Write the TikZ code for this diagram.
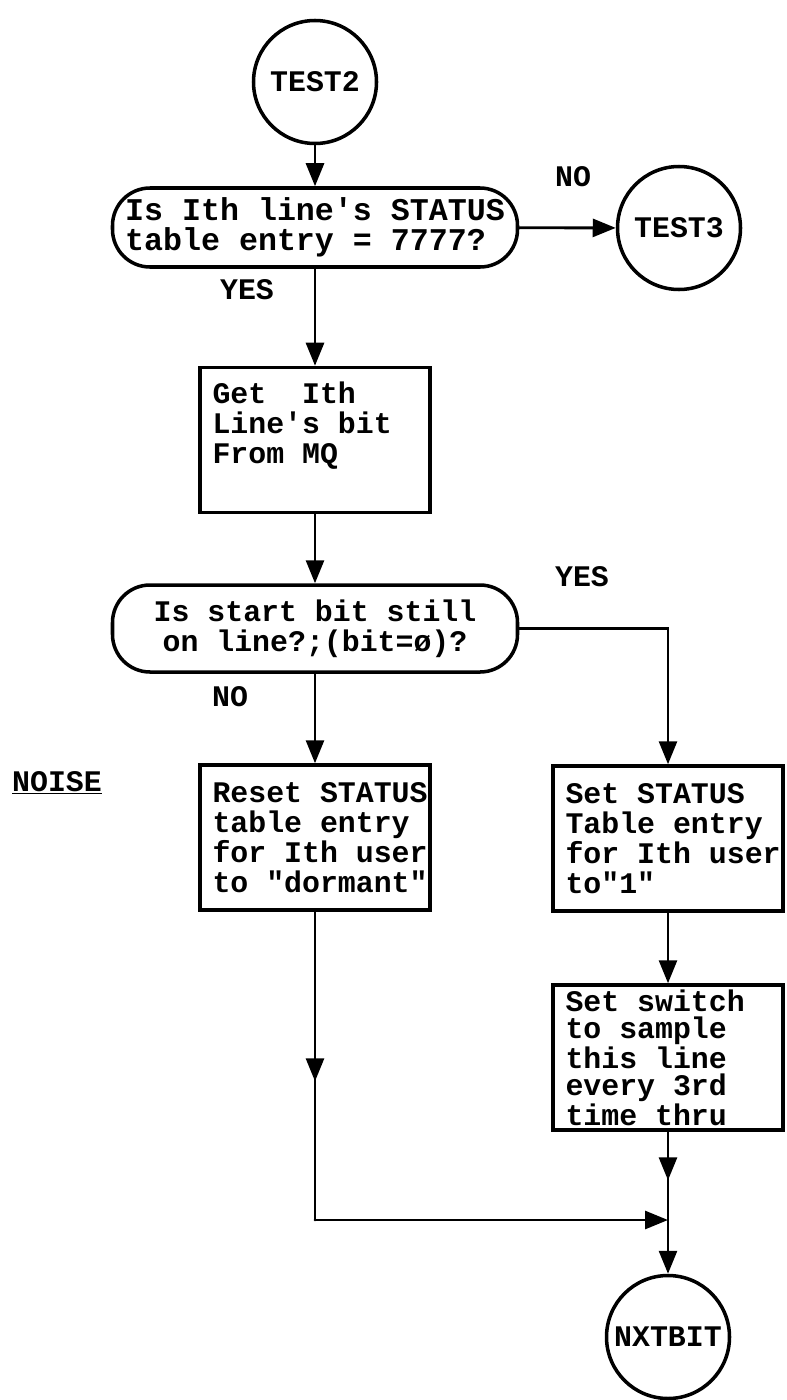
\documentclass[tikz,border=0pt]{standalone}
\usepackage{fontspec}
\setmonofont{Liberation Mono}
\usetikzlibrary{arrows.meta,decorations.markings}

\begin{document}
\begin{tikzpicture}[every node/.style={font=\ttfamily\bfseries\fontsize{17}{17}\selectfont},
    line cap=round,
    flow/.style={line width=1.6pt, -{Triangle[length=0.46cm,width=0.36cm]}},
    midflow/.style={line width=1.6pt, postaction={decorate},
      decoration={markings, mark=at position 0.55 with {\arrow{Triangle[length=0.46cm,width=0.36cm]}}}},
    connector/.style={draw, circle, line width=2pt, minimum size=2.46cm, inner sep=0pt},
    decision/.style={draw, rectangle, rounded corners=0.75cm, line width=2pt, minimum width=8.1cm},
    procbox/.style={draw, rectangle, line width=2pt, minimum width=4.6cm, minimum height=2.9cm,
      text width=4.1cm, align=flush left, inner xsep=0.25cm, inner ysep=0.07cm}]

\useasboundingbox (0,0) rectangle (15.74,-28);

% ---------- top: is the line marked 7777 ----------
\node[connector] (test2) at (6.3,-1.64) {TEST2};
\node[decision, minimum height=1.58cm, align=left, font=\ttfamily\bfseries\fontsize{18}{17}\selectfont]
  (isfree) at (6.3,-4.55) {Is Ith line's STATUS\\table entry = 7777?};
\node[connector] (test3) at (13.58,-4.56) {TEST3};
\node (nofree) at (11.46,-3.54) {NO};
\node (yesfree) at (4.94,-5.8) {YES};

\draw[flow] (test2) -- (isfree);
\draw[flow] (isfree) -- (test3);

% ---------- middle: read the bit, test the start bit ----------
\node[procbox, text depth=1.9cm] (getbit) at (6.3,-8.8) {Get~~Ith\\Line's~bit\\From~MQ};
\node[decision, minimum height=1.74cm, align=center] (isstart) at (6.3,-12.57)
  {Is start bit still\\on line?;(bit=ø)?};
\node (yesstart) at (11.64,-11.54) {YES};
\node (nostart) at (4.6,-13.94) {NO};

\draw[flow] (isfree) -- (getbit);
\draw[flow] (getbit) -- (isstart);

% ---------- bottom: the two branches ----------
\node (noise) at (1.14,-15.66) {\underline{NOISE}};
\node[procbox] (reset) at (6.3,-16.75)
  {Reset~STATUS\\table~entry\\for~Ith~user\\to~"dormant"};
\node[procbox] (setstat) at (13.36,-16.77)
  {Set~STATUS\\Table~entry\\for~Ith~user\\to"1"};
\node[procbox, font=\ttfamily\bfseries\fontsize{17}{15.5}\selectfont] (setsw) at (13.36,-21.15)
  {Set~switch\\to~sample\\this~line\\every~3rd\\time~thru};
\node[connector] (nxtbit) at (13.36,-26.74) {NXTBIT};
\coordinate (join) at (13.36,-24.4);
\coordinate (corner) at (reset.south |- join);

\draw[flow] (isstart) -- (reset);
\draw[flow] (isstart.east) -| (setstat.north);
\draw[flow] (setstat) -- (setsw);
\draw[midflow] (reset.south) -- (corner);
\draw[flow] (corner) -- (join);
\draw[midflow] (setsw.south) -- (join);
\draw[flow] (join) -- (nxtbit);

\end{tikzpicture}
\end{document}
